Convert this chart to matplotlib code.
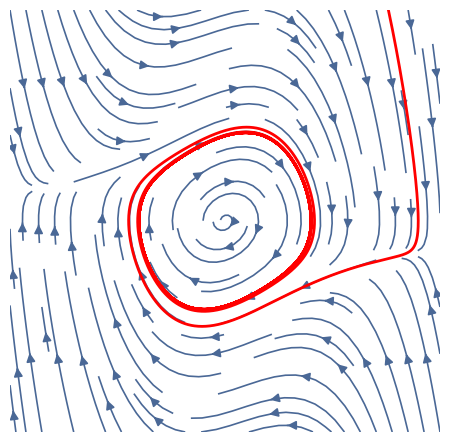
import numpy as np
import matplotlib.pyplot as plt

# Van der Pol field: x' = y, y' = mu (1 - x^2) y - x
mu = 0.3
x_range = [-5, 5]
y_range = [-5, 5]
start = [3.8, 5.0]   # initial point of the red trajectory
t_end = 70.0

def field(x, y):
    return y, mu * (1 - x**2) * y - x

def rk4(p0, t_end, dt=0.005):
    p = np.array(p0, dtype=float)
    out = [p.copy()]
    f = lambda q: np.array(field(q[0], q[1]))
    for _ in range(int(t_end / dt)):
        k1 = f(p)
        k2 = f(p + dt / 2 * k1)
        k3 = f(p + dt / 2 * k2)
        k4 = f(p + dt * k3)
        p = p + dt / 6 * (k1 + 2 * k2 + 2 * k3 + k4)
        out.append(p.copy())
    return np.array(out)

X, Y = np.meshgrid(np.linspace(*x_range, 200), np.linspace(*y_range, 200))
U, V = field(X, Y)

fig = plt.figure(figsize=(4.5, 4.36), dpi=100)
ax = fig.add_axes([10 / 450, 4 / 436, 430 / 450, 422 / 436])
kw = dict(density=0.95, color='#4a6896', linewidth=1.2, arrowsize=1.3,
          broken_streamlines=True, maxlength=0.8)
try:
    ax.streamplot(X, Y, U, V, num_arrows=4, **kw)
except TypeError:
    ax.streamplot(X, Y, U, V, **kw)

traj = rk4(start, t_end)
ax.plot(traj[:, 0], traj[:, 1], color='red', lw=2.0, zorder=5)

ax.set_xlim(*x_range)
ax.set_ylim(*y_range)
ax.axis('off')
fig.savefig('out.png', dpi=100)
